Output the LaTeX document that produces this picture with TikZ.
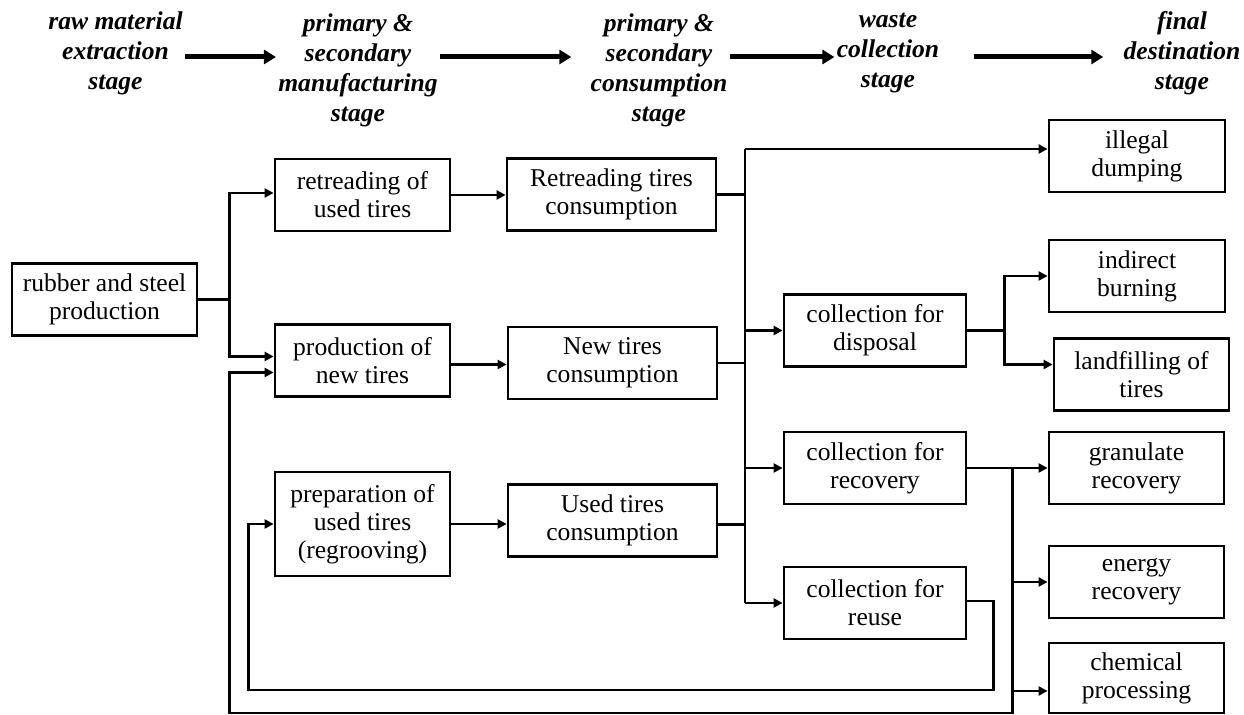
\documentclass[tikz,border=0pt]{standalone}
\usepackage{fontspec}
\setmainfont{Liberation Serif}
\usetikzlibrary{arrows.meta}
\newcommand{\boxheight}{36pt}
\newcommand{\flowfont}{\fontsize{12.8}{14}\selectfont}

\begin{document}
\begin{tikzpicture}[x=0.5pt,y=-0.5pt]
    \useasboundingbox (0,0) rectangle (1244,715);

    % stage headings
    \begin{scope}[every node/.style={align=center,inner sep=1pt,font=\fontsize{12.8}{15}\selectfont\bfseries\itshape}]
        \node (h1) at (115.5,53) {raw material\\extraction\\stage};
        \node (h2) at (358,70) {primary \&\\secondary\\manufacturing\\stage};
        \node (h3) at (659,70) {primary \&\\secondary\\consumption\\stage};
        \node (h4) at (888,53) {waste\\collection\\stage};
        \node (h5) at (1182,53) {final\\destination\\stage};
    \end{scope}
    \coordinate (arrowrow) at ([yshift=-2pt]h1.east);

    \begin{scope}[>={Triangle[length=6pt,width=7pt]}, line width=2.5pt]
        \draw [->] (arrowrow) -- (arrowrow -| h2.west);
        \draw [->,shorten >=8.5pt] (h2.east |- arrowrow) -- (h3.west |- arrowrow);
        \draw [->] (h3.east |- arrowrow) -- (h4.west |- arrowrow);
        \draw [->,shorten <=16pt,shorten >=9pt] (h4.east |- arrowrow) -- (h5.west |- arrowrow);
    \end{scope}

    % boxes
    \begin{scope}[every node/.style={draw,line width=1.4pt,align=center,minimum height=\boxheight,inner sep=2pt,font=\flowfont}]
        \node[minimum width=92.5pt] (rubber) at (104.5,299.5) {rubber and steel\\production};

        \node[minimum width=87.5pt] (retread) at (362.5,195) {retreading of\\used tires};
        \node[minimum width=87.5pt] (newprod) at (362.5,360.5) {production of\\new tires};
        \node[minimum width=87.5pt,minimum height=52pt] (prep) at (362.5,524) {preparation of\\used tires\\(regrooving)};

        \node[minimum width=104.5pt] (retcons) at (611.5,194.5) {Retreading tires\\consumption};
        \node[minimum width=104.5pt] (newcons) at (612.5,363) {New tires\\consumption};
        \node[minimum width=104.5pt] (usedcons) at (612.5,520.5) {Used tires\\consumption};

        \node[minimum width=91pt] (disposal) at (875,330.5) {collection for\\disposal};
        \node[minimum width=91pt] (recovery) at (875,468) {collection for\\recovery};
        \node[minimum width=91pt] (reuse) at (875,603) {collection for\\reuse};

        \node[minimum width=88pt] (illegal) at (1137,156) {illegal\\dumping};
        \node[minimum width=88pt] (burning) at (1137,276) {indirect\\burning};
        \node[minimum width=87.5pt] (landfill) at (1141.5,374.5) {landfilling of\\tires};
        \node[minimum width=87.5pt] (granulate) at (1136.5,468) {granulate\\recovery};
        \node[minimum width=87.5pt] (energy) at (1136.5,582) {energy\\recovery};
        \node[minimum width=87.5pt,minimum height=35pt] (chemical) at (1136.5,678) {chemical\\processing};
    \end{scope}

    % flows
    \begin{scope}[>={Triangle[length=4.5pt,width=4.5pt]}, line width=1.4pt]
        \coordinate (newin) at ([yshift=-6pt]newprod.west);
        \coordinate (chemin) at ([yshift=-6.5pt]chemical.west);
        \coordinate (bus) at (745,149);

        \draw (rubber.east) -- ++(31,0) coordinate (fork1);
        \draw [->] (fork1) |- ([yshift=1pt]retread.west);
        \draw [->] (fork1) |- ([yshift=2pt]newprod.west);

        \draw [->] (retread.east) -- (retread.east -| retcons.west);
        \draw [->] ([yshift=-2pt]newprod.east) -- ([yshift=-2pt]newprod.east -| newcons.west);
        \draw [->] (prep.east) -- (prep.east -| usedcons.west);

        \draw (bus) -- (bus |- reuse.west);
        \draw (retcons.east) -- (retcons.east -| bus);
        \draw (newcons.east) -- (newcons.east -| bus);
        \draw ([yshift=-2pt]usedcons.east) -- ([yshift=-2pt]usedcons.east -| bus);
        \draw [->] (bus) -- (bus -| illegal.west);
        \draw [->] (bus |- disposal.west) -- (disposal.west);
        \draw [->] (bus |- recovery.west) -- (recovery.west);
        \draw [->] (bus |- reuse.west) -- (reuse.west);

        \draw (disposal.east) -- ++(37,0) coordinate (fork2);
        \draw [->] (fork2) |- (burning.west);
        \draw [->] (fork2) |- ([yshift=5pt]landfill.west);

        \draw (recovery.east) -- ++(45,0) coordinate (fork3);
        \draw [->] (fork3) -- (granulate.west);
        \draw [->] (fork3 |- energy.west) -- (energy.west);
        \draw [->] (fork3 |- chemin) -- (chemin);

        % back to production
        \draw [->] (fork3) -- ++(0,245) -| (fork1 |- newin) -- (newin);
        \draw [->] ([yshift=1pt]reuse.east) -- ++(26,0) -- ++(0,89) -| ([xshift=-12.5pt]prep.west) -- (prep.west);
    \end{scope}
\end{tikzpicture}
\end{document}
